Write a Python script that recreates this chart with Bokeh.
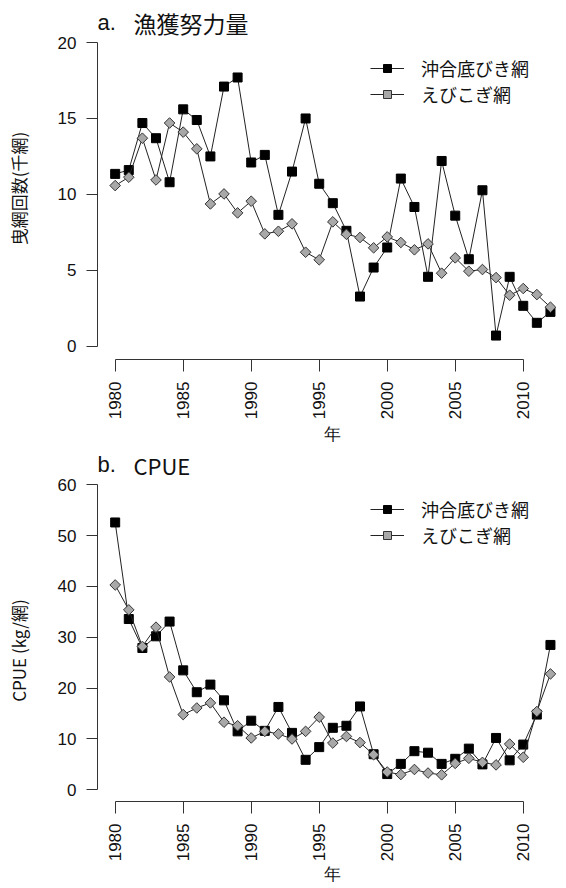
import numpy as np
from bokeh.plotting import figure
from bokeh.layouts import column
from bokeh.models import FixedTicker, Label, Legend, LegendItem, Range1d
from bokeh.embed import file_html
from bokeh.resources import INLINE

years = list(range(1980, 2013))
effort_trawl = [11.35, 11.6, 14.7, 13.7, 10.8, 15.6, 14.9, 12.5, 17.1, 17.7,
                12.1, 12.6, 8.65, 11.5, 15.0, 10.7, 9.42, 7.6, 3.27, 5.18,
                6.5, 11.04, 9.17, 4.57, 12.2, 8.6, 5.73, 10.27, 0.7, 4.57,
                2.66, 1.54, 2.26]
effort_ebi = [10.58, 11.13, 13.7, 10.95, 14.7, 14.1, 13.0, 9.37, 10.03, 8.78,
              9.55, 7.4, 7.57, 8.06, 6.19, 5.69, 8.19, 7.37, 7.16, 6.48,
              7.2, 6.83, 6.35, 6.74, 4.81, 5.82, 4.94, 5.05, 4.52, 3.36,
              3.8, 3.4, 2.57]
cpue_trawl = [52.6, 33.6, 27.9, 30.2, 33.1, 23.5, 19.2, 20.7, 17.6, 11.5,
              13.6, 11.6, 16.3, 11.2, 5.9, 8.4, 12.2, 12.6, 16.4, 7.0,
              3.1, 5.1, 7.6, 7.3, 5.1, 6.1, 8.1, 5.0, 10.2, 5.8,
              8.9, 14.8, 28.5]
cpue_ebi = [40.3, 35.4, 28.2, 32.0, 22.2, 14.8, 16.1, 17.1, 13.3, 12.6,
            10.2, 11.5, 11.0, 10.0, 11.5, 14.3, 9.2, 10.5, 9.3, 6.9,
            3.5, 3.0, 4.0, 3.3, 2.95, 5.2, 6.2, 5.4, 4.9, 9.0,
            6.4, 15.4, 22.8]

x_ticks = [1980, 1985, 1990, 1995, 2000, 2005, 2010]
effort_ticks = [0, 5, 10, 15, 20]
cpue_ticks = [0, 10, 20, 30, 40, 50, 60]
series_names = ["沖合底びき網", "えびこぎ網"]
title_tags = ["a.", "b."]
title_texts = ["漁獲努力量", "CPUE"]
y_labels = ["曳網回数(千網)", "CPUE (kg/網)"]
x_label = "年"

CJK = "Noto Sans CJK JP"
LAT = "Liberation Sans"


def make_panel(trawl, ebi, yticks, yr, ylabel, ylabel_pad, height, bottom_b,
               xlab_standoff, legend_y):
    p = figure(width=566, height=height,
               min_border_left=97, min_border_right=0,
               min_border_top=0, min_border_bottom=bottom_b,
               x_range=Range1d(1978.70, 2013.18), y_range=Range1d(*yr),
               output_backend="svg", toolbar_location=None, tools="")
    p.outline_line_color = None
    p.grid.visible = False
    p.background_fill_color = "white"
    p.border_fill_color = "white"

    for ax in (p.xaxis[0], p.yaxis[0]):
        ax.axis_line_color = "#333333"
        ax.major_tick_line_color = "#333333"
        ax.minor_tick_line_color = None
        ax.major_tick_in = 0
        ax.major_label_text_font = LAT
        ax.major_label_text_font_size = "17px"
        ax.major_label_text_color = "#111111"
        ax.axis_label_text_font_size = "17px"
        ax.axis_label_text_font_style = "normal"
        ax.axis_label_text_color = "#111111"

    xa = p.xaxis[0]
    xa.ticker = FixedTicker(ticks=x_ticks)
    xa.bounds = (x_ticks[0], x_ticks[-1])
    xa.major_tick_out = 12
    xa.major_label_standoff = 10
    xa.major_label_orientation = np.pi / 2
    xa.axis_label = x_label
    xa.axis_label_text_font = LAT
    xa.axis_label_text_line_height = 1.0
    xa.axis_label_standoff = xlab_standoff

    ya = p.yaxis[0]
    ya.ticker = FixedTicker(ticks=yticks)
    ya.bounds = (yticks[0], yticks[-1])
    ya.major_tick_out = 11
    ya.major_label_standoff = 10
    # trailing ideographic spaces shift the visible label toward the lower
    # (R plotting-region) centre, as in the original figure
    ya.axis_label = ylabel + "\u3000" * ylabel_pad
    ya.axis_label_text_font = CJK
    ya.axis_label_standoff = 24

    l1 = p.line(years, trawl, line_color="#222222", line_width=1)
    s1 = p.scatter(years, trawl, marker="square", size=9,
                   fill_color="black", line_color="black", line_width=1)
    l2 = p.line(years, ebi, line_color="#222222", line_width=1)
    s2 = p.scatter(years, ebi, marker="square", angle=np.pi / 4, size=7.5,
                   fill_color="#a8a8a8", line_color="#333333", line_width=1)

    legend = Legend(items=[LegendItem(label=series_names[0], renderers=[l1, s1]),
                           LegendItem(label=series_names[1], renderers=[l2, s2])],
                    location=(273, legend_y))
    legend.border_line_color = None
    legend.background_fill_alpha = 0
    legend.padding = 0
    legend.margin = 0
    legend.spacing = -4
    legend.glyph_width = 34
    legend.glyph_height = 20
    legend.label_height = 20
    legend.label_standoff = 17
    legend.label_text_font = CJK
    legend.label_text_font_size = "18px"
    legend.label_text_color = "#111111"
    legend.label_text_baseline = "middle"
    p.add_layout(legend)
    return p


def add_title(p, tag, title, y_from_frame_bottom, size):
    # title sits just above the R-style plotting region, inside the frame
    p.add_layout(Label(x=0, y=y_from_frame_bottom, x_units="screen", y_units="screen",
                       text=tag, text_font=LAT, text_font_size="22px",
                       text_baseline="middle", text_align="left",
                       text_color="#111111"))
    p.add_layout(Label(x=36, y=y_from_frame_bottom, x_units="screen", y_units="screen",
                       text=title, text_font=CJK, text_font_size=size,
                       text_baseline="middle", text_align="left",
                       text_color="#111111"))


# top panel: page 0..448, frame 0..359
p1 = make_panel(effort_trawl, effort_ebi, effort_ticks, (-0.876, 22.77),
                y_labels[0], 1, 448, 89, 3, 252)
add_title(p1, title_tags[0], title_texts[0], 359 - 22, "23px")

# bottom panel: page 448..888, frame 448..801
p2 = make_panel(cpue_trawl, cpue_ebi, cpue_ticks, (-2.30, 67.15),
                y_labels[1], 3, 440, 87, 1, 253)
add_title(p2, title_tags[1], title_texts[1], 353 - 16, "22px")

layout = column(p1, p2, spacing=0)
open("out.html", "w").write(file_html(layout, INLINE))
